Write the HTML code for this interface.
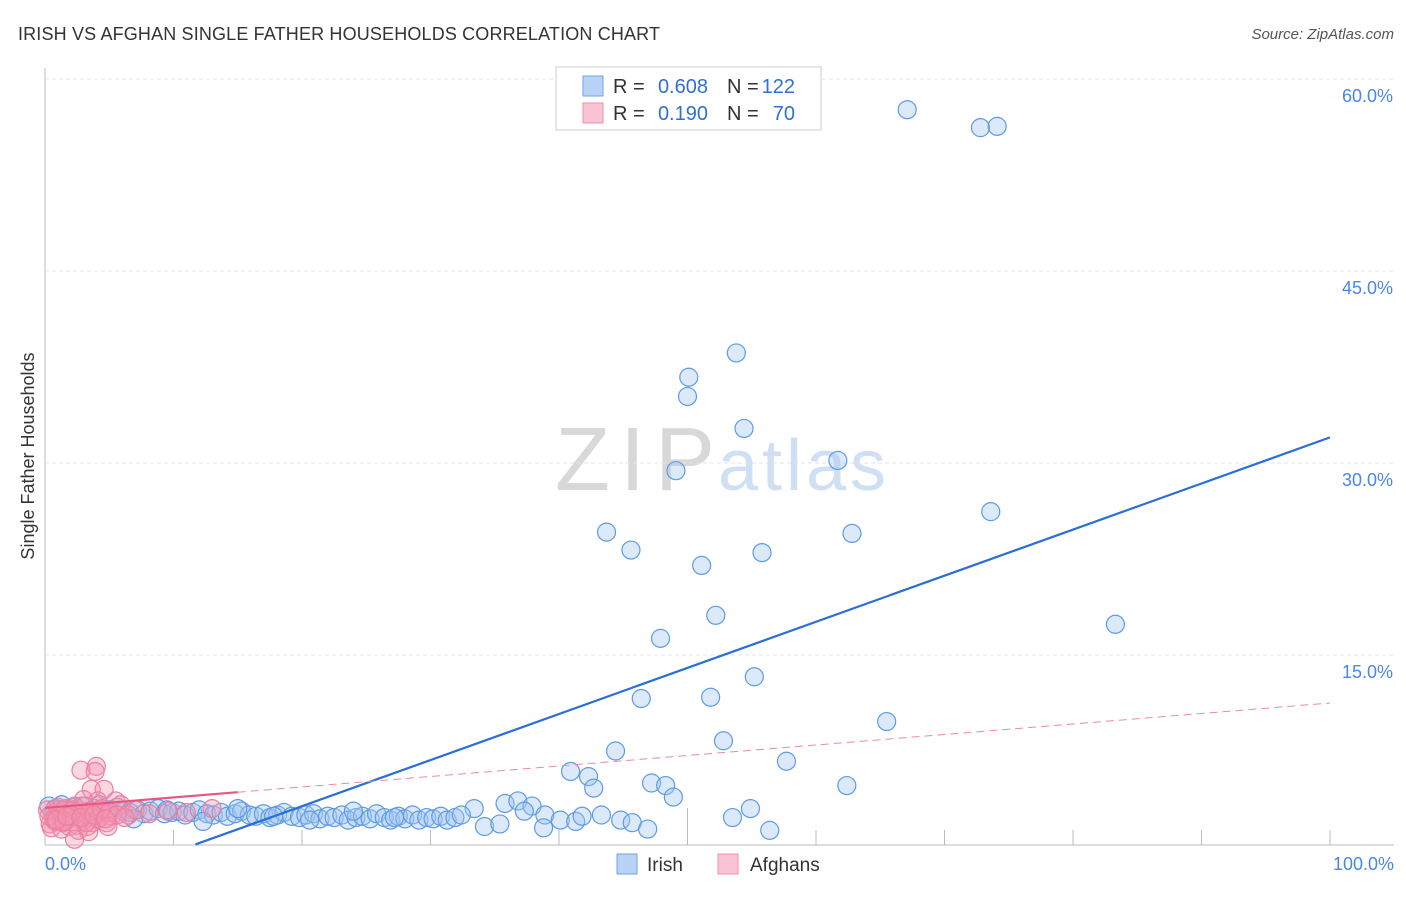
<!DOCTYPE html>
<html><head><meta charset="utf-8"><style>
body{margin:0;background:#fff;font-family:"Liberation Sans",sans-serif}
svg text{font-family:"Liberation Sans",sans-serif}
</style></head><body>
<svg id="c" width="1406" height="892" xmlns="http://www.w3.org/2000/svg">
<text x="18" y="40" font-size="18" fill="#333" textLength="642">IRISH VS AFGHAN SINGLE FATHER HOUSEHOLDS CORRELATION CHART</text>
<text x="1394" y="39" font-size="15" fill="#555" font-style="italic" text-anchor="end">Source: ZipAtlas.com</text>
<text x="34" y="456" font-size="18" fill="#333" text-anchor="middle" transform="rotate(-90 34 456)">Single Father Households</text>
<text x="555" y="490" font-size="90" fill="#d8d8d8" font-family="Liberation Serif" textLength="160">ZIP</text>
<text x="718" y="490" font-size="72" fill="#cfe0f5" textLength="168">atlas</text>
<g id="grid"></g><g id="pts"></g><g id="lines"></g>
<rect x="556" y="67" width="265" height="63" fill="#fff" stroke="#ccc"/>
<rect x="583" y="76" width="20" height="20" fill="#b8d3f5" stroke="#6fa3e6"/>
<rect x="583" y="103" width="20" height="20" fill="#fac4d4" stroke="#ee8fac"/>
<g font-size="20">
<text x="613" y="93" fill="#333">R =</text><text x="708" y="93" fill="#2f6fd6" text-anchor="end">0.608</text>
<text x="727" y="93" fill="#333">N =</text><text x="795" y="93" fill="#2f6fd6" text-anchor="end">122</text></g>
<g font-size="20">
<text x="613" y="120" fill="#333">R =</text><text x="708" y="120" fill="#2f6fd6" text-anchor="end">0.190</text>
<text x="727" y="120" fill="#333">N =</text><text x="795" y="120" fill="#2f6fd6" text-anchor="end">70</text></g>
<text x="45" y="870" font-size="18" fill="#4a86e8">0.0%</text>
<text x="1394" y="870" font-size="18" fill="#4a86e8" text-anchor="end">100.0%</text>
<rect x="617" y="854" width="20" height="20" fill="#b8d3f5" stroke="#6fa3e6"/>
<text x="647" y="871" font-size="19" fill="#333">Irish</text>
<rect x="718" y="854" width="20" height="20" fill="#fac4d4" stroke="#ee8fac"/>
<text x="750" y="871" font-size="19" fill="#333">Afghans</text>
</svg>
<script>
const yTicks=[15,30,45,60];
const yTickLabels=["15.0%","30.0%","45.0%","60.0%"];
const xTicks=[0,10,20,30,40,50,60,70,80,90,100];
const irishX=[67.1,72.8,74.1,53.8,50.1,50.0,54.4,61.7,49.1,73.6,43.7,62.8,45.6,55.8,51.1,52.2,83.3,47.9,55.2,46.4,51.8,65.5,52.8,44.4,57.7,40.9,42.3,42.7,47.2,48.3,62.4,48.9,54.9,35.8,36.8,37.9,37.3,33.4,43.3,44.8,45.7,46.9,38.9,40.1,53.5,56.4,34.2,35.4,38.8,41.3,41.8,
0.3,0.8,1.3,1.8,2.3,2.9,3.4,3.9,4.5,5.0,5.6,6.1,6.6,7.2,7.7,8.2,8.8,9.3,9.9,10.4,10.9,11.5,12.0,12.6,13.1,13.7,14.2,14.8,15.3,15.9,16.4,17.0,17.5,18.1,18.6,19.2,19.8,20.3,20.9,21.4,22.0,22.5,23.1,23.6,24.2,24.7,25.3,25.8,26.4,26.9,27.5,28.0,28.6,29.1,29.7,30.2,30.8,31.3,31.9,32.4,2.0,4.2,6.9,9.5,12.3,15.0,17.8,20.6,24.0,27.2,1.0];
const irishY=[57.6,56.2,56.3,38.6,36.7,35.2,32.7,30.2,29.4,26.2,24.6,24.5,23.2,23.0,22.0,18.1,17.4,16.3,13.3,11.6,11.7,9.8,8.3,7.5,6.7,5.9,5.5,4.6,5.0,4.8,4.8,3.9,3.0,3.4,3.6,3.2,2.8,3.0,2.5,2.1,1.9,1.4,2.5,2.1,2.3,1.3,1.6,1.8,1.5,2.0,2.4,
3.2,3.0,3.3,2.9,3.1,3.2,2.8,3.0,2.7,2.9,3.1,2.8,2.7,2.9,2.6,2.8,3.0,2.6,2.7,2.8,2.5,2.7,2.9,2.6,2.5,2.7,2.4,2.6,2.8,2.5,2.4,2.6,2.3,2.5,2.7,2.4,2.3,2.5,2.6,2.2,2.4,2.3,2.5,2.1,2.3,2.4,2.2,2.6,2.3,2.1,2.4,2.2,2.5,2.1,2.3,2.2,2.4,2.1,2.3,2.5,2.6,3.3,2.2,2.9,2.0,3.0,2.4,2.1,2.8,2.3,2.5];
const afgX=[2.8,4.0,3.9,3.6,4.6,5.5,4.1,4.3,3.0,2.3,5.9,0.3,0.6,0.9,1.2,1.5,1.8,2.1,2.4,2.7,3.0,3.3,3.6,3.9,4.2,4.5,0.4,0.8,1.1,1.4,1.7,2.0,2.5,2.9,3.3,3.7,4.1,4.8,5.2,6.5,0.2,1.0,1.6,2.2,3.1,3.5,4.4,5.0,0.5,1.3,1.9,2.6,3.4,4.9,7.0,8.1,9.6,11.0,13.0,5.6,6.2,0.7,1.5,2.3,3.2,0.9,1.7,2.8,3.8,4.7];
const afgY=[6.0,6.3,5.9,4.5,4.5,3.6,3.6,2.9,3.7,3.2,3.3,2.4,2.6,2.3,2.7,2.5,2.2,2.8,2.4,2.6,2.1,2.5,2.3,2.7,2.2,2.6,1.8,2.0,2.9,1.9,2.1,2.4,1.7,2.0,1.6,1.9,2.2,1.9,2.4,2.5,2.9,3.1,3.0,2.9,3.2,2.8,3.0,2.7,1.5,1.4,1.6,1.3,1.2,1.6,2.9,2.6,2.8,2.7,3.0,2.5,2.3,2.2,2.0,0.6,1.9,2.1,2.4,2.3,2.5,2.2];
const blueLine=[11.7,0.2,100,32.0];
const pinkSolid=[0,3.05,15,4.28];
const pinkDash=[15,4.28,100,11.25];
const sx=v=>45+v*12.85, sy=v=>847-v*12.8;
const NS="http://www.w3.org/2000/svg";
function mk(t,a,p){const e=document.createElementNS(NS,t);for(const k in a)e.setAttribute(k,a[k]);p.appendChild(e);return e;}
const grid=document.getElementById('grid');
mk('line',{x1:45,y1:845,x2:1394,y2:845,stroke:'#bbb'},grid);
mk('line',{x1:45,y1:68,x2:45,y2:845,stroke:'#bbb'},grid);
mk('line',{x1:45,y1:79,x2:1394,y2:79,stroke:'#e3e3e3','stroke-dasharray':'4,3'},grid);
yTicks.forEach((t,i)=>{
 const g=mk('line',{x1:45,y1:sy(t),x2:1394,y2:sy(t),stroke:'#e3e3e3','stroke-dasharray':'4,3'},grid);
 
 
 const tx=mk('text',{x:1393,y:sy(t)+23,'font-size':18,fill:'#4a86e8','text-anchor':'end'},grid);
 tx.textContent=yTickLabels[i];
 
 
});
xTicks.forEach(t=>{
 const l=mk('line',{x1:sx(t),y1:t==50?808:830,x2:sx(t),y2:845,stroke:'#bbb'},grid);
 
 
});
const pts=document.getElementById('pts');
irishX.forEach((x,i)=>{
 const c=mk('circle',{cx:sx(x),cy:sy(irishY[i]),r:9,fill:'rgba(160,196,240,0.38)',stroke:'#5d9be6','stroke-width':1.2},pts);
 
 
});
afgX.forEach((x,i)=>{
 const c=mk('circle',{cx:sx(x),cy:sy(afgY[i]),r:9,fill:'rgba(245,150,180,0.38)',stroke:'#ec7fa0','stroke-width':1.2},pts);
 
 
});
const ln=document.getElementById('lines');
const b=mk('line',{x1:sx(blueLine[0]),y1:sy(blueLine[1]),x2:sx(blueLine[2]),y2:sy(blueLine[3]),stroke:'#2a6fd6','stroke-width':2.2},ln);


const p1=mk('line',{x1:sx(pinkSolid[0]),y1:sy(pinkSolid[1]),x2:sx(pinkSolid[2]),y2:sy(pinkSolid[3]),stroke:'#e8577f','stroke-width':2.2},ln);


const p2=mk('line',{x1:sx(pinkDash[0]),y1:sy(pinkDash[1]),x2:sx(pinkDash[2]),y2:sy(pinkDash[3]),stroke:'#e88ba5','stroke-width':1,'stroke-dasharray':'8,5'},ln);


</script>
</body></html>
